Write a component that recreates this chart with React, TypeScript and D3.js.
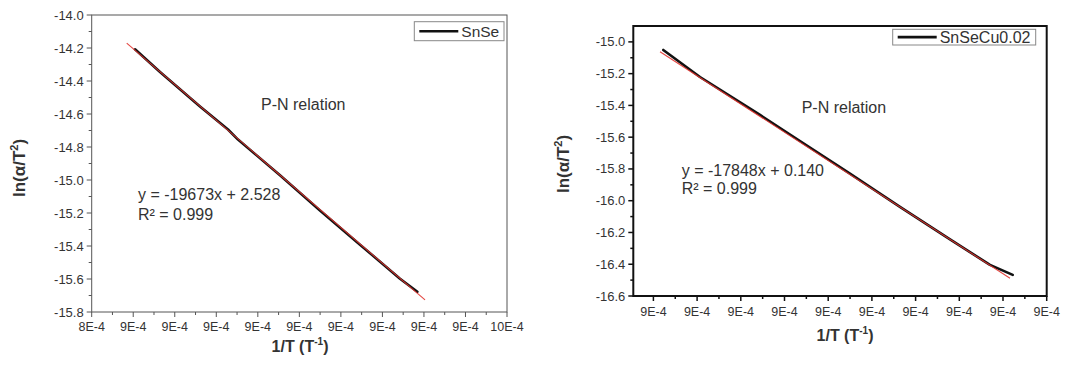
import React from "react";
import * as d3 from "d3";

// ---------- Left panel (SnSe) ----------
const leftXTickValues = [0.00085, 0.00086, 0.00087, 0.00088, 0.00089, 0.0009, 0.00091, 0.00092, 0.00093, 0.00094, 0.00095];
const leftXTickLabels = ["8E-4", "9E-4", "9E-4", "9E-4", "9E-4", "9E-4", "9E-4", "9E-4", "9E-4", "9E-4", "10E-4"];
const leftYTickValues = [-15.8, -15.6, -15.4, -15.2, -15.0, -14.8, -14.6, -14.4, -14.2, -14.0];
const leftYTickLabels = ["-15.8", "-15.6", "-15.4", "-15.2", "-15.0", "-14.8", "-14.6", "-14.4", "-14.2", "-14.0"];
const leftDataX = [0.00086043, 0.00086645, 0.00087608, 0.00088282, 0.00088523, 0.00089534, 0.00090497, 0.00091461, 0.00092424, 0.00092841];
const leftDataY = [-14.208, -14.345, -14.554, -14.694, -14.755, -14.971, -15.185, -15.392, -15.598, -15.677];
const leftFitX = [0.00085843, 0.00093026];
const leftFitY = [-14.17, -15.727];

// ---------- Right panel (SnSeCu0.02) ----------
const rightXTickValues = [0.00088, 0.000885, 0.00089, 0.000895, 0.0009, 0.000905, 0.00091, 0.000915, 0.00092, 0.000925];
const rightXTickLabels = ["9E-4", "9E-4", "9E-4", "9E-4", "9E-4", "9E-4", "9E-4", "9E-4", "9E-4", "9E-4"];
const rightYTickValues = [-16.6, -16.4, -16.2, -16.0, -15.8, -15.6, -15.4, -15.2, -15.0];
const rightYTickLabels = ["-16.6", "-16.4", "-16.2", "-16.0", "-15.8", "-15.6", "-15.4", "-15.2", "-15.0"];
const rightDataX = [0.00088113, 0.00088533, 0.0008922, 0.00089677, 0.00090249, 0.00090821, 0.00091394, 0.00091851, 0.00092111];
const rightDataY = [-15.051, -15.221, -15.46, -15.624, -15.83, -16.039, -16.244, -16.404, -16.467];
const rightFitX = [0.00088076, 0.0009208];
const rightFitY = [-15.062, -16.488];

const FONT = "'Liberation Sans', Arial, Helvetica, sans-serif";

type PanelProps = {
  left: number; right: number; top: number; bottom: number;
  xDomain: [number, number]; yDomain: [number, number];
  xTicks: number[]; xLabels: string[];
  yTicks: number[]; yLabels: string[];
  dataX: number[]; dataY: number[]; fitX: number[]; fitY: number[];
  frameColor: string; frameWidth: number;
  legendName: string; legendBox: [number, number, number, number]; legendFont: number;
  pnPos: [number, number]; eq: string; eqPos: [number, number]; r2Dy: number;
  yTitlePos: [number, number]; xTitlePos: [number, number];
  xLabelDy: number;
};

function Panel(p: PanelProps) {
  const x = d3.scaleLinear().domain(p.xDomain).range([p.left, p.right]);
  const y = d3.scaleLinear().domain(p.yDomain).range([p.bottom, p.top]);
  const line = d3.line<[number, number]>().x((d) => x(d[0])).y((d) => y(d[1]));
  const data = p.dataX.map((v, i) => [v, p.dataY[i]] as [number, number]);
  const fit = p.fitX.map((v, i) => [v, p.fitY[i]] as [number, number]);
  const xMinor: number[] = [];
  for (let i = 0; i < p.xTicks.length - 1; i++) xMinor.push((p.xTicks[i] + p.xTicks[i + 1]) / 2);
  const yMinor: number[] = [];
  for (let i = 0; i < p.yTicks.length - 1; i++) yMinor.push((p.yTicks[i] + p.yTicks[i + 1]) / 2);
  const tc = p.frameColor;
  const tw = p.frameWidth > 1 ? 1.5 : 1;
  const [lx0, ly0, lx1, ly1] = p.legendBox;
  const lyMid = (ly0 + ly1) / 2;
  return (
    <g fontFamily={FONT}>
      <rect x={p.left} y={p.top} width={p.right - p.left} height={p.bottom - p.top} fill="none" stroke={p.frameColor} strokeWidth={p.frameWidth} />
      {p.xTicks.map((t, i) => (
        <g key={"xt" + i}>
          <line x1={x(t)} x2={x(t)} y1={p.bottom} y2={p.bottom + 5} stroke={tc} strokeWidth={tw} />
          <text x={x(t)} y={p.bottom + p.xLabelDy} textAnchor="middle" fontSize={12.5} fill="#333">{p.xLabels[i]}</text>
        </g>
      ))}
      {xMinor.map((t, i) => (
        <line key={"xm" + i} x1={x(t)} x2={x(t)} y1={p.bottom} y2={p.bottom + 3} stroke={tc} strokeWidth={tw} />
      ))}
      {p.yTicks.map((t, i) => (
        <g key={"yt" + i}>
          <line x1={p.left - 5} x2={p.left} y1={y(t)} y2={y(t)} stroke={tc} strokeWidth={tw} />
          <text x={p.left - 8} y={y(t)} dy="0.35em" textAnchor="end" fontSize={13} fill="#333">{p.yLabels[i]}</text>
        </g>
      ))}
      {yMinor.map((t, i) => (
        <line key={"ym" + i} x1={p.left - 3} x2={p.left} y1={y(t)} y2={y(t)} stroke={tc} strokeWidth={tw} />
      ))}
      <path d={line(data) || ""} fill="none" stroke="#111" strokeWidth={2.6} strokeLinejoin="round" strokeLinecap="round" />
      <path d={line(fit) || ""} fill="none" stroke="#e0332e" strokeWidth={1.1} strokeOpacity={0.9} />
      <rect x={lx0} y={ly0} width={lx1 - lx0} height={ly1 - ly0} fill="white" stroke="#888" strokeWidth={1} />
      <line x1={lx0 + 5} x2={lx0 + 44} y1={lyMid} y2={lyMid} stroke="#111" strokeWidth={2.6} />
      <text x={lx0 + 47} y={lyMid} dy="0.36em" fontSize={p.legendFont} fill="#333">{p.legendName}</text>
      <text x={p.pnPos[0]} y={p.pnPos[1]} fontSize={16} fill="#333">P-N relation</text>
      <text x={p.eqPos[0]} y={p.eqPos[1]} fontSize={16} fill="#333">{p.eq}</text>
      <text x={p.eqPos[0]} y={p.eqPos[1] + p.r2Dy} fontSize={16} fill="#333">R² = 0.999</text>
      <text transform={`translate(${p.yTitlePos[0]},${p.yTitlePos[1]}) rotate(-90)`} textAnchor="middle" fontSize={17} fontWeight="bold" fill="#333">
        ln(α/T<tspan fontSize={11} dy={-7}>2</tspan><tspan dy={7}>)</tspan>
      </text>
      <text x={p.xTitlePos[0]} y={p.xTitlePos[1]} textAnchor="middle" fontSize={16} fontWeight="bold" fill="#333">
        1/T (T<tspan fontSize={10} dy={-7}>-1</tspan><tspan dy={7}>)</tspan>
      </text>
    </g>
  );
}

export default function App() {
  return (
    <svg width={1055} height={352} style={{ display: "block", background: "white" }} viewBox="8 8 1055 352">
      <rect x={0} y={0} width={1071} height={368} fill="white" />
      <Panel
        left={91.7} right={507} top={15} bottom={312}
        xDomain={[0.00085, 0.00095]} yDomain={[-15.8, -14.0]}
        xTicks={leftXTickValues} xLabels={leftXTickLabels}
        yTicks={leftYTickValues} yLabels={leftYTickLabels}
        dataX={leftDataX} dataY={leftDataY} fitX={leftFitX} fitY={leftFitY}
        frameColor="#555" frameWidth={1}
        legendName="SnSe" legendBox={[414.3, 21.7, 504, 40.7]} legendFont={15.5}
        pnPos={[261, 110]} eq="y = -19673x + 2.528" eqPos={[138, 200]} r2Dy={19.5}
        yTitlePos={[25, 168]} xTitlePos={[300, 352]} xLabelDy={19}
      />
      <Panel
        left={633.3} right={1046.7} top={26} bottom={296}
        xDomain={[0.0008777, 0.000925]} yDomain={[-16.6, -14.9]}
        xTicks={rightXTickValues} xLabels={rightXTickLabels}
        yTicks={rightYTickValues} yLabels={rightYTickLabels}
        dataX={rightDataX} dataY={rightDataY} fitX={rightFitX} fitY={rightFitY}
        frameColor="#111" frameWidth={2}
        legendName="SnSeCu0.02" legendBox={[892.7, 29.3, 1035.7, 45]} legendFont={16}
        pnPos={[801.7, 112.5]} eq="y = -17848x + 0.140" eqPos={[681.7, 176]} r2Dy={17.5}
        yTitlePos={[569, 164]} xTitlePos={[845, 341]} xLabelDy={20}
      />
    </svg>
  );
}
